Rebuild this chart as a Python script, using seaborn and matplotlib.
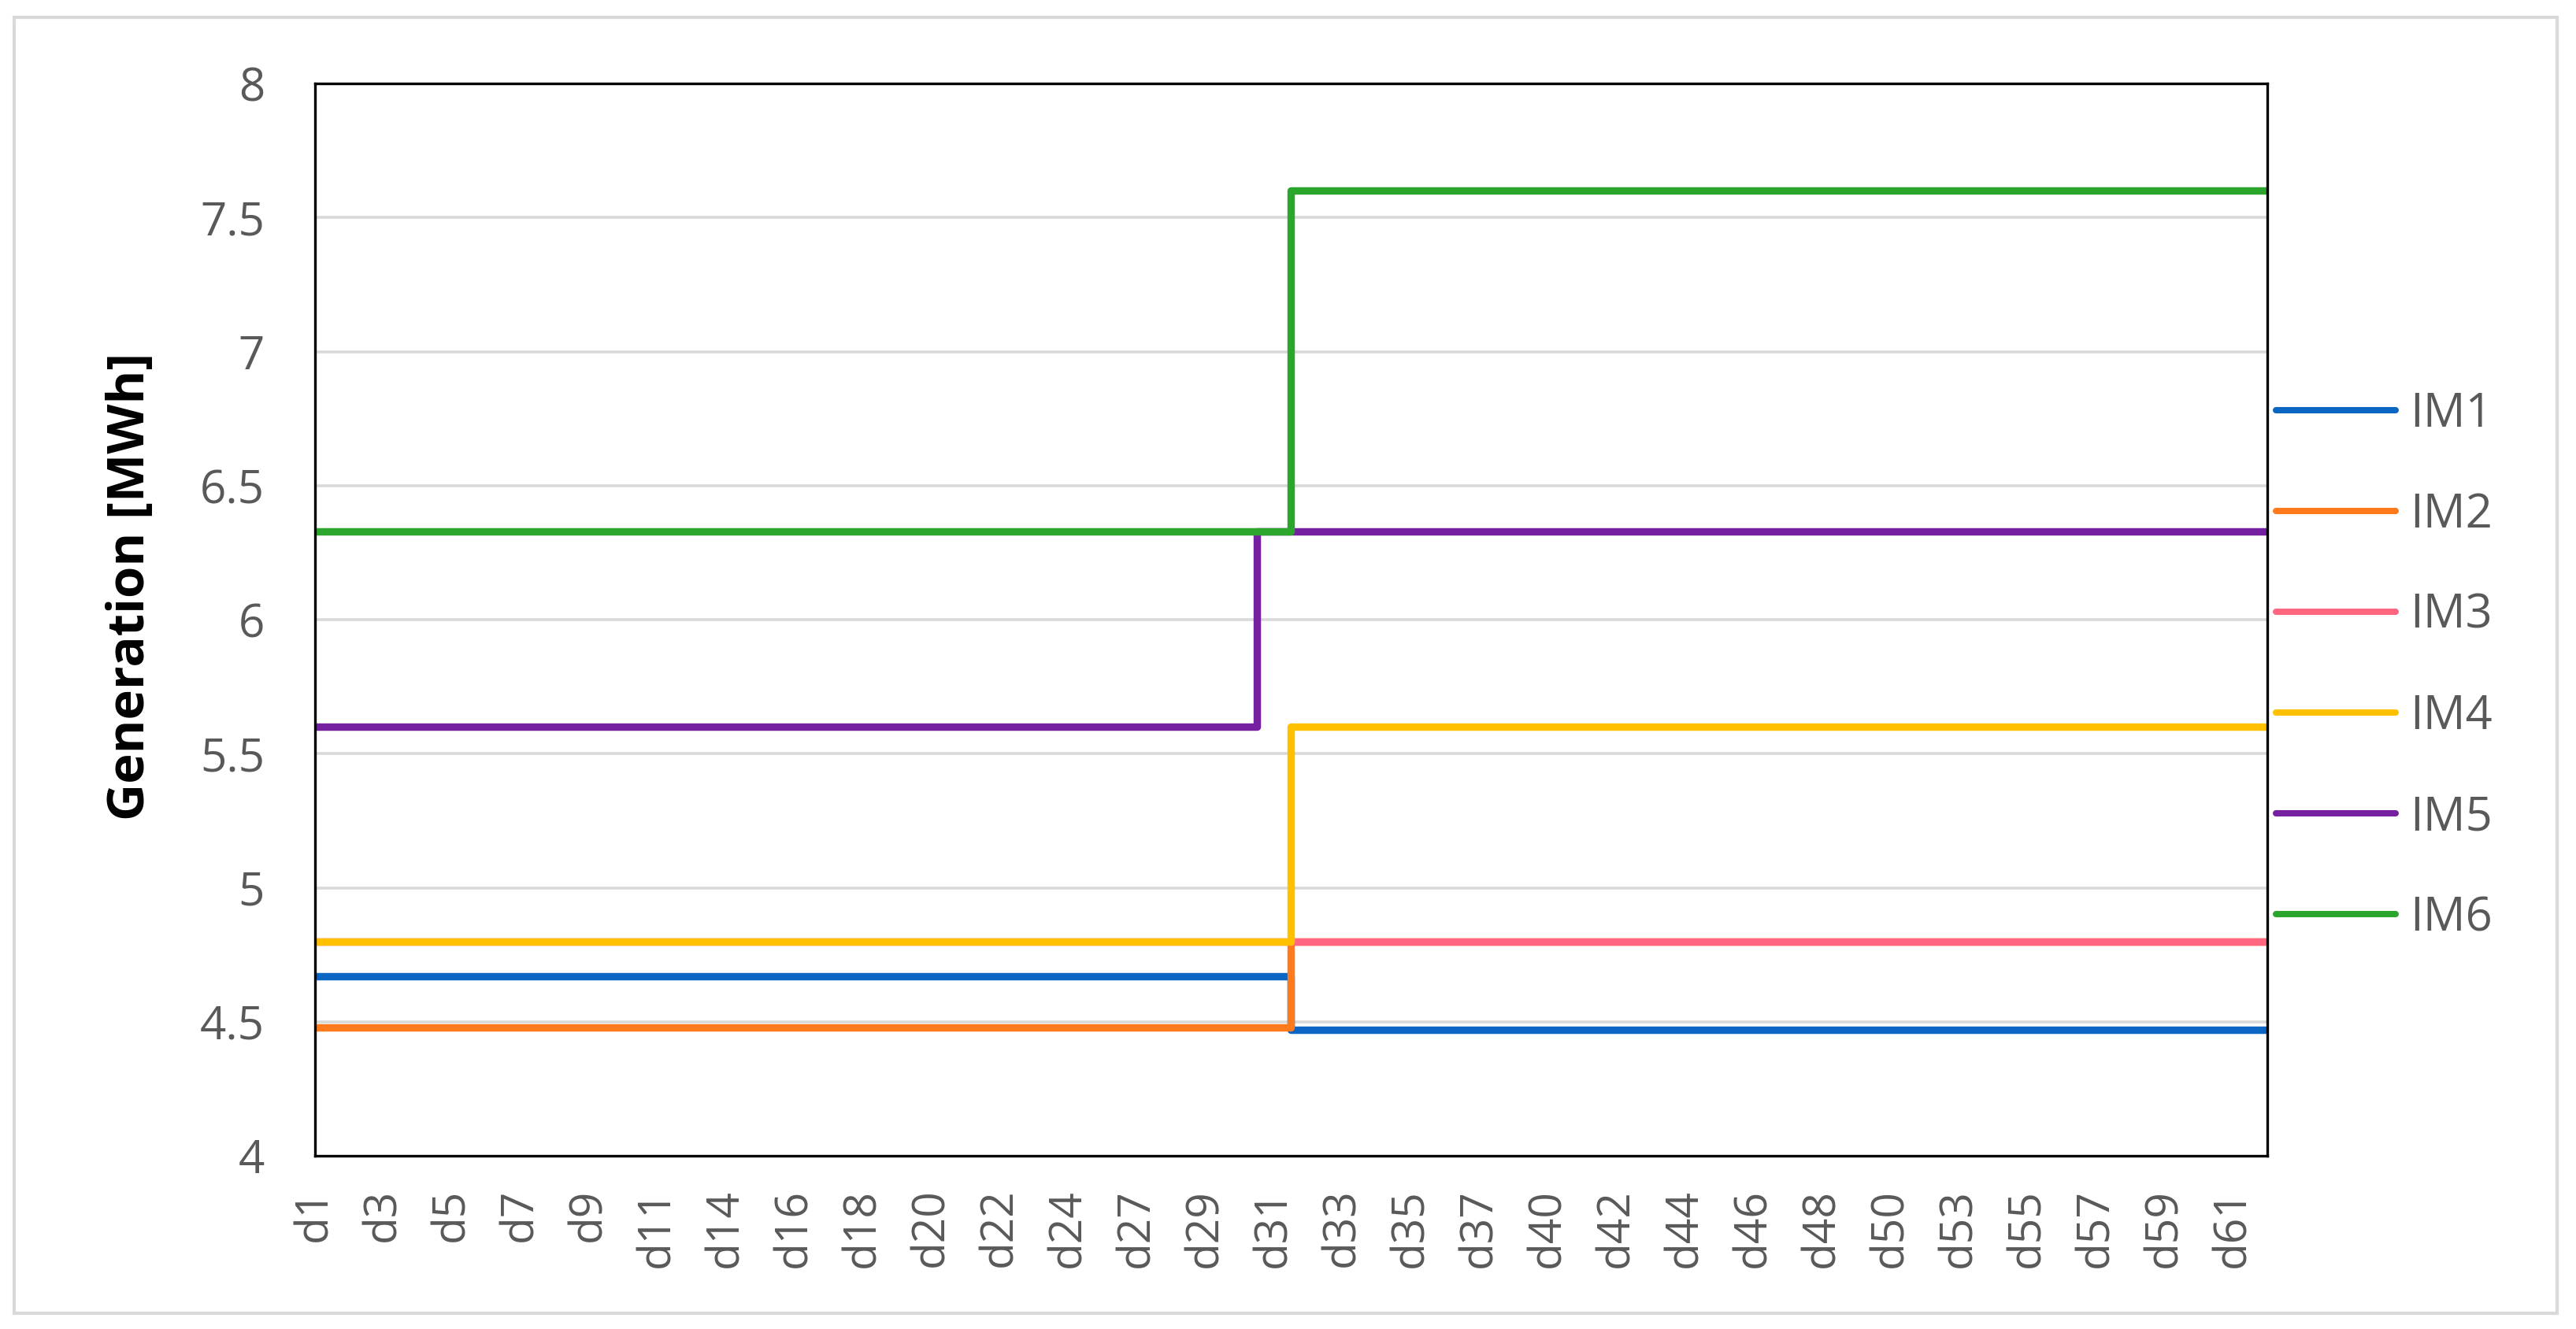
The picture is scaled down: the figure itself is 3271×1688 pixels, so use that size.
import matplotlib
matplotlib.use("Agg")
import matplotlib.pyplot as plt
from matplotlib.lines import Line2D
from matplotlib.patches import Rectangle
import seaborn as sns
import pandas as pd

# ---- data ----
categories = ['d1', 'd2', 'd3', 'd4', 'd5', 'd6', 'd7', 'd8', 'd9', 'd10', 'd11', 'd12',
              'd14', 'd15', 'd16', 'd17', 'd18', 'd19', 'd20', 'd21', 'd22', 'd23', 'd24', 'd25',
              'd27', 'd28', 'd29', 'd30', 'd31', 'd32', 'd33', 'd34', 'd35', 'd36', 'd37', 'd38',
              'd40', 'd41', 'd42', 'd43', 'd44', 'd45', 'd46', 'd47', 'd48', 'd49', 'd50', 'd51',
              'd53', 'd54', 'd55', 'd56', 'd57', 'd58', 'd59', 'd60', 'd61', 'd62']
series_names = ['IM1', 'IM2', 'IM3', 'IM4', 'IM5', 'IM6']
im1 = [4.67] * 29 + [4.47] * 29
im2 = [4.48] * 29 + [4.80] * 29
im3 = [4.80] * 29 + [4.80] * 29
im4 = [4.80] * 29 + [5.60] * 29
im5 = [5.60] * 28 + [6.33] * 30
im6 = [6.33] * 29 + [7.60] * 29
colors = ['#0A66C2', '#FF7A1C', '#FF6680', '#FFC000', '#7420A0', '#2CA52C']
y_ticks = [4, 4.5, 5, 5.5, 6, 6.5, 7, 7.5, 8]
y_tick_labels = ['4', '4.5', '5', '5.5', '6', '6.5', '7', '7.5', '8']

values = [im1, im2, im3, im4, im5, im6]
rows = []
for name, vals in zip(series_names, values):
    for i, v in enumerate(vals):
        rows.append({'pos': i, 'value': v, 'series': name})
df = pd.DataFrame(rows)

# ---- style ----
sns.set_style('white')
plt.rcParams['font.family'] = ['Open Sans', 'DejaVu Sans']

W, H = 3271, 1688
fig = plt.figure(figsize=(W / 100, H / 100), dpi=100)
fig.patch.set_facecolor('white')

# outer light border
fig.patches.append(Rectangle((18 / W, 1 - 1668 / H), (3247 - 18) / W, (1668 - 22) / H,
                             transform=fig.transFigure, fill=False,
                             edgecolor='#D9D9D9', linewidth=3))

ax = fig.add_axes([400 / W, 1 - 1468 / H, (2879 - 400) / W, (1468 - 106) / H])

# grid
for yv in y_ticks[1:-1]:
    ax.axhline(yv, color='#D9D9D9', linewidth=2.6, zorder=0)

palette = dict(zip(series_names, colors))
sns.lineplot(data=df, x='pos', y='value', hue='series', hue_order=series_names,
             palette=palette, ax=ax, drawstyle='steps-mid', linewidth=6.8,
             legend=False, sort=False, estimator=None,
             solid_joinstyle='round', solid_capstyle='butt')

ax.set_xlim(0, len(categories) - 1)
ax.set_ylim(4, 8)
ax.set_yticks(y_ticks)
ax.set_yticklabels(y_tick_labels)
ax.set_xticks(list(range(0, len(categories), 2)))
ax.set_xticklabels(categories[::2], rotation=90)
ax.tick_params(axis='x', length=0, pad=30, labelsize=41, labelcolor='#595959')
ax.tick_params(axis='y', length=0, pad=46, labelsize=42, labelcolor='#595959')
ax.set_xlabel('')
ax.set_ylabel('Generation [MWh]', fontsize=47, fontweight='bold', color='black')
ax.yaxis.set_label_coords(-0.081, 0.531)

for s in ax.spines.values():
    s.set_visible(True)
    s.set_color('black')
    s.set_linewidth(2.4)

# legend
handles = [Line2D([0], [0], color=c, linewidth=5.8, solid_capstyle='round') for c in colors]
fig.legend(handles, series_names, loc='center left', bbox_to_anchor=(2890 / W, 1 - 846 / H),
           frameon=False, fontsize=43, handlelength=2.55, handletextpad=0.3,
           labelspacing=1.14, borderpad=0, borderaxespad=0, labelcolor='#595959')

fig.savefig('out.png', dpi=100, facecolor='white')
